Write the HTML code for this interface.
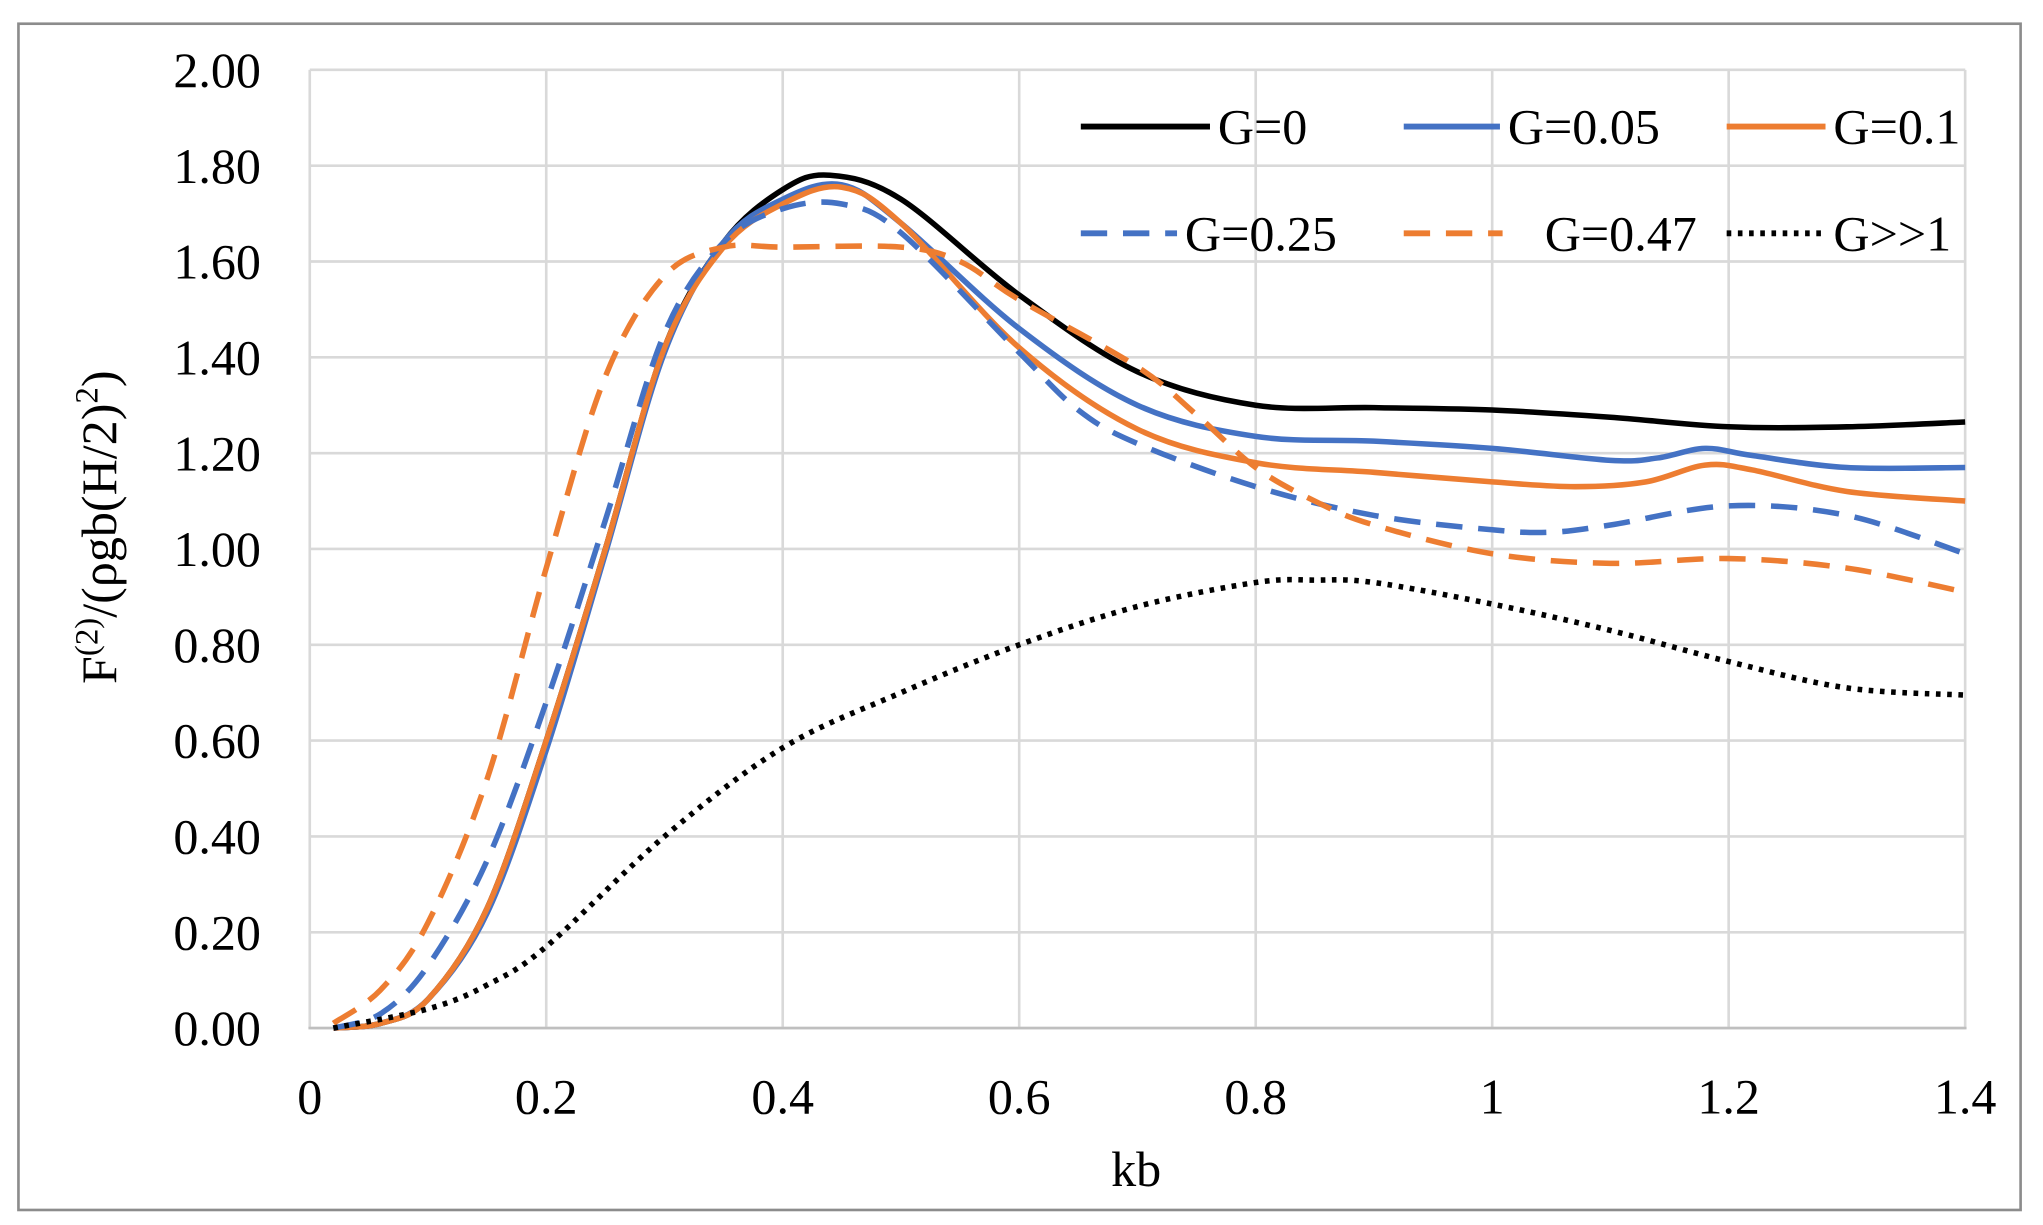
<!DOCTYPE html>
<html><head><meta charset="utf-8"><style>
html,body{margin:0;padding:0;background:#fff;}
svg{display:block;}
text{font-family:"Liberation Serif",serif;fill:#000;}
</style></head><body>
<svg id="s" width="2043" height="1225" viewBox="0 0 1550 929.4" preserveAspectRatio="none" xmlns="http://www.w3.org/2000/svg">
<rect x="14" y="18" width="1519" height="900" fill="#fff" stroke="#8c8c8c" stroke-width="2"/>
<g id="grid" stroke="#d9d9d9" stroke-width="2"></g>
<g id="labels" font-size="38"></g>
<text x="862" y="900" font-size="38" text-anchor="middle">kb</text>
<text transform="translate(88,400) rotate(-90)" font-size="38" text-anchor="middle">F<tspan font-size="25" dy="-14">(2)</tspan><tspan dy="14">/(ρgb(H/2)</tspan><tspan font-size="25" dy="-14">2</tspan><tspan dy="14">)</tspan></text>
<g id="series" fill="none" stroke-width="4.2"></g>
<g id="legend" font-size="38"></g>
</svg>
<script>
var X=function(k){return 235+897.1*k;};
var Y=function(v){return 780-363.5*v;};
var ns="http://www.w3.org/2000/svg";
function el(p,t,a,txt){var e=document.createElementNS(ns,t);for(var k in a)e.setAttribute(k,a[k]);if(txt!=null)e.textContent=txt;document.getElementById(p).appendChild(e);return e;}
for(var i=0;i<=10;i++){var y=Y(i*0.2);el("grid","line",{x1:235,x2:1491,y1:y,y2:y});el("labels","text",{x:198,y:y+13,"text-anchor":"end"},(i*0.2).toFixed(2));}
for(var i=0;i<=7;i++){var x=X(i*0.2);el("grid","line",{x1:x,x2:x,y1:53,y2:780});el("labels","text",{x:x,y:845,"text-anchor":"middle"},i==0?"0":(i==5?"1":(i*0.2).toFixed(1)));}
el("grid","line",{x1:234,x2:1492,y1:780,y2:780,stroke:"#bfbfbf"});
function path(pts){var p=pts.map(function(a){return[X(a[0]),Y(a[1])];});var d="M"+p[0][0]+","+p[0][1];
for(var i=0;i<p.length-1;i++){var p0=p[i-1]||p[i],p1=p[i],p2=p[i+1],p3=p[i+2]||p2;
d+=" C"+(p1[0]+(p2[0]-p0[0])/6)+","+(p1[1]+(p2[1]-p0[1])/6)+" "+(p2[0]-(p3[0]-p1[0])/6)+","+(p2[1]-(p3[1]-p1[1])/6)+" "+p2[0]+","+p2[1];}return d;}
var S=[
{c:"#000",d:"",p:[[0.02,0],[0.06,0.01],[0.1,0.06],[0.15,0.25],[0.2,0.6],[0.25,1.0],[0.3,1.42],[0.35,1.64],[0.4,1.75],[0.44,1.78],[0.5,1.73],[0.6,1.53],[0.7,1.37],[0.8,1.30],[0.9,1.295],[1.0,1.29],[1.1,1.275],[1.2,1.255],[1.3,1.255],[1.4,1.265]]},
{c:"#4472c4",d:"",p:[[0.02,0],[0.06,0.01],[0.1,0.06],[0.15,0.24],[0.2,0.58],[0.25,0.99],[0.3,1.41],[0.35,1.64],[0.4,1.73],[0.45,1.76],[0.5,1.68],[0.6,1.46],[0.7,1.30],[0.8,1.235],[0.9,1.225],[1.0,1.21],[1.1,1.185],[1.14,1.19],[1.18,1.21],[1.22,1.195],[1.3,1.17],[1.4,1.17]]},
{c:"#ed7d31",d:"",p:[[0.02,0],[0.06,0.01],[0.1,0.06],[0.15,0.25],[0.2,0.6],[0.25,1.0],[0.3,1.42],[0.35,1.63],[0.4,1.72],[0.45,1.755],[0.5,1.68],[0.6,1.42],[0.7,1.25],[0.8,1.18],[0.9,1.16],[1.0,1.14],[1.07,1.13],[1.13,1.14],[1.18,1.175],[1.22,1.165],[1.3,1.12],[1.4,1.10]]},
{c:"#4472c4",d:"20 12",p:[[0.02,0],[0.06,0.03],[0.1,0.13],[0.15,0.35],[0.2,0.68],[0.25,1.06],[0.3,1.45],[0.35,1.64],[0.4,1.71],[0.45,1.72],[0.5,1.66],[0.6,1.41],[0.65,1.29],[0.7,1.22],[0.8,1.13],[0.9,1.07],[1.0,1.04],[1.05,1.035],[1.1,1.05],[1.2,1.09],[1.3,1.07],[1.4,0.99]]},
{c:"#ed7d31",d:"20 12",p:[[0.02,0.01],[0.06,0.08],[0.1,0.22],[0.15,0.52],[0.2,0.96],[0.25,1.36],[0.3,1.57],[0.35,1.63],[0.4,1.63],[0.5,1.63],[0.55,1.60],[0.6,1.52],[0.7,1.38],[0.75,1.28],[0.8,1.17],[0.85,1.10],[0.9,1.05],[1.0,0.99],[1.1,0.97],[1.2,0.98],[1.3,0.96],[1.4,0.91]]},
{c:"#000",d:"3.5 5",p:[[0.02,0],[0.1,0.04],[0.15,0.09],[0.2,0.17],[0.3,0.40],[0.4,0.585],[0.5,0.70],[0.6,0.80],[0.7,0.88],[0.8,0.93],[0.85,0.935],[0.9,0.93],[1.0,0.885],[1.1,0.83],[1.2,0.765],[1.3,0.71],[1.4,0.695]]}];
S.forEach(function(s){var a={d:path(s.p),stroke:s.c};if(s.d)a["stroke-dasharray"]=s.d;el("series","path",a);});
var L=[[820,918,96,"G=0",0],[1065,1138,96,"G=0.05",1],[1310,1385,96,"G=0.1",2],[820,893,177,"G=0.25",3],[1065,1140,177,"G=0.47",4],[1310,1385,177,"G>>1",5]];
L.forEach(function(l){var s=S[l[4]];var a={x1:l[0],x2:l[1],y1:l[2],y2:l[2],stroke:s.c,"stroke-width":4.5};if(s.d)a["stroke-dasharray"]=s.d;el("legend","line",a);
var tx=l[4]==4?1172:l[1]+6;el("legend","text",{x:tx,y:l[2]+13},l[3]);});
</script>
</body></html>
